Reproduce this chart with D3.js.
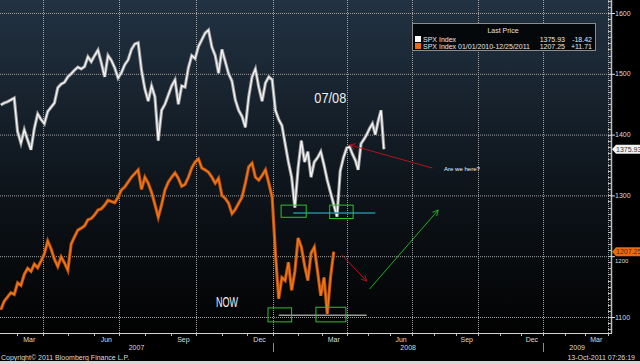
<!DOCTYPE html>
<html>
<head>
<meta charset="utf-8">
<script src="https://cdn.jsdelivr.net/npm/d3@7"></script>
<style>
  body { margin: 0; background: #000; }
  svg { display: block; font-family: "Liberation Sans", Arial, sans-serif; }
</style>
</head>
<body>
<div id="chart"></div>
<script>
// one value every 4 days, starting 10 Feb 2007
var startDate = '2007-02-10';
var stepDays = 4;

// SPX Index 2007-2008 (white)
var spx0708 = [
  1449,1452,1454,1457,1460,1405,1386,1408,1391,1375,
  1410,1434,1425,1418,1438,1445,1452,1477,1483,1486,
  1495,1500,1506,1511,1508,1512,1528,1520,1530,1539,
  1518,1495,1530,1522,1510,1493,1502,1515,1523,1540,
  1549,1551,1506,1475,1455,1480,1462,1390,1440,1450,
  1465,1480,1490,1450,1480,1478,1510,1530,1525,1545,
  1556,1567,1572,1544,1530,1501,1540,1520,1500,1488,
  1457,1440,1430,1412,1462,1495,1508,1478,1455,1485,
  1495,1490,1440,1425,1415,1385,1355,1330,1280,1345,
  1390,1355,1372,1330,1355,1362,1372,1350,1325,1305,
  1285,1265,1340,1362,1378,1380,1368,1358,1342,1385,
  1392,1400,1410,1418,1400,1422,1440,1375.93
];

// SPX Index 01/01/2010-12/25/2011 laid over the same span (orange)
var spx1011 = [
  1112,1126,1133,1140,1137,1156,1152,1170,1180,1175,
  1187,1181,1192,1204,1225,1212,1195,1183,1199,1189,
  1177,1220,1232,1243,1246,1250,1260,1262,1268,1276,
  1278,1284,1292,1290,1288,1297,1309,1314,1322,1330,
  1336,1342,1310,1330,1320,1305,1285,1264,1285,1309,
  1322,1330,1337,1328,1315,1318,1330,1345,1355,1360,
  1345,1342,1338,1330,1320,1328,1300,1295,1287,1270,
  1277,1287,1297,1320,1347,1353,1330,1325,1333,1342,
  1320,1297,1205,1130,1165,1160,1190,1144,1175,1230,
  1215,1185,1160,1205,1215,1175,1135,1165,1105,1165,
  1207.25
];

var yTicks = [1100, 1200, 1300, 1400, 1500, 1600];
var years = ['2007', '2008', '2009'];

var legendRows = [
  {name: 'SPX Index', last: '1375.93', chg: '-18.42', color: '#ffffff'},
  {name: 'SPX Index 01/01/2010-12/25/2011', last: '1207.25', chg: '+11.71', color: '#ee6a10'}
];

// hand drawn notes, in chart units
var boxes = [
  {x0: '2008-01-11', x1: '2008-02-11', y0: 1264, y1: 1284},
  {x0: '2008-03-11', x1: '2008-04-10', y0: 1262, y1: 1284},
  {x0: '2007-12-26', x1: '2008-01-24', y0: 1092, y1: 1115},
  {x0: '2008-02-23', x1: '2008-03-31', y0: 1092, y1: 1116}
];
var levels = [
  {x0: '2008-01-26', x1: '2008-05-11', y: 1271, color: '#1f8e98'},
  {x0: '2008-01-08', x1: '2008-04-29', y: 1103, color: '#9a9a9a'}
];
var arrows = [
  {x0: '2008-07-30', y0: 1345, x1: '2008-04-05', y1: 1383, color: '#b3141a'},
  {x0: '2008-03-26', y0: 1202, x1: '2008-04-29', y1: 1159, color: '#b3141a'},
  {x0: '2008-05-03', y0: 1146, x1: '2008-08-07', y1: 1276, color: '#22b022'}
];
var notes = [
  {x: '2007-10-25', y: 1116, text: 'NOW', size: 14, len: 22},
  {x: '2008-02-21', y: 1452, text: '07/08', size: 14, len: 32},
  {x: '2008-08-15', y: 1340, text: 'Are we here?', size: 6, len: 36}
];

var width = 640, height = 364;
var plotW = 611, plotH = 333;
var parse = d3.timeParse('%Y-%m-%d');
var start = parse(startDate);

// bloomberg squeezes the empty future part of the axis
var x = d3.scaleTime()
  .domain([parse('2007-04-01'), parse('2008-01-01'), parse('2008-04-01'), parse('2009-01-01')])
  .range([42.7, 273, 346.7, 543.3]);
var y = d3.scaleLinear().domain([1100, 1600]).range([317, 13]);

var svg = d3.select('#chart').append('svg')
  .attr('width', width)
  .attr('height', height);

var defs = svg.append('defs');
var grad = defs.append('linearGradient')
  .attr('id', 'bg')
  .attr('x1', 0).attr('y1', 0).attr('x2', 0).attr('y2', 1);
grad.append('stop').attr('offset', '0%').attr('stop-color', '#223242');
grad.append('stop').attr('offset', '55%').attr('stop-color', '#0e151c');
grad.append('stop').attr('offset', '100%').attr('stop-color', '#020202');

defs.append('clipPath').attr('id', 'plot-clip')
  .append('rect').attr('width', plotW).attr('height', plotH);

arrows.forEach(function(a, i) {
  defs.append('marker')
    .attr('id', 'head' + i)
    .attr('viewBox', '0 0 10 10')
    .attr('refX', 9).attr('refY', 5)
    .attr('markerWidth', 7).attr('markerHeight', 7)
    .attr('orient', 'auto')
    .append('path')
      .attr('d', 'M1,1 L9,5 L1,9')
      .attr('fill', 'none')
      .attr('stroke', a.color)
      .attr('stroke-width', 1.3);
});

svg.append('rect').attr('width', width).attr('height', height).attr('fill', '#000');
svg.append('rect').attr('width', plotW).attr('height', plotH).attr('fill', 'url(#bg)');
svg.append('rect').attr('y', 361).attr('width', width).attr('height', 3).attr('fill', '#d6d6d6');

//grid
var quarters = d3.timeMonth.range(parse('2007-01-01'), parse('2009-06-01'))
  .filter(function(d) { return d.getMonth() % 3 == 0; })
  .filter(function(d) { return x(d) > 0 && x(d) < plotW; });

var grid = svg.append('g').attr('class', 'grid')
  .attr('stroke', '#a0a0a0')
  .attr('stroke-dasharray', '1,1');
grid.selectAll('.hgrid')
  .data(yTicks)
  .enter().append('line')
    .attr('x1', 0).attr('x2', plotW)
    .attr('y1', function(d) { return y(d) + 0.5; })
    .attr('y2', function(d) { return y(d) + 0.5; });
grid.selectAll('.vgrid')
  .data(quarters)
  .enter().append('line')
    .attr('x1', function(d) { return Math.round(x(d)) + 0.5; })
    .attr('x2', function(d) { return Math.round(x(d)) + 0.5; })
    .attr('y1', 0).attr('y2', plotH);

//series, drawn as a wide dim band with a bright core to mimic the daily bars
function toPoints(arr) {
  return arr.map(function(v, i) {
    return {date: d3.timeDay.offset(start, i * stepDays), value: v};
  });
}
var line = d3.line()
  .x(function(d) { return x(d.date); })
  .y(function(d) { return y(d.value); });

var series = [
  {data: spx1011, under: '#b9500a', core: '#f27a1c'},
  {data: spx0708, under: '#9c9c9c', core: '#f6f6f6'}
];
var plot = svg.append('g').attr('clip-path', 'url(#plot-clip)');
series.forEach(function(s) {
  var pts = toPoints(s.data);
  plot.append('path')
    .datum(pts)
    .attr('fill', 'none')
    .attr('stroke', s.under)
    .attr('stroke-width', 3.2)
    .attr('stroke-linejoin', 'miter')
    .attr('stroke-miterlimit', 4)
    .attr('d', line);
  plot.append('path')
    .datum(pts)
    .attr('fill', 'none')
    .attr('stroke', s.core)
    .attr('stroke-width', 1.3)
    .attr('stroke-linejoin', 'miter')
    .attr('stroke-miterlimit', 4)
    .attr('d', line);
});

//annotations
var notesG = svg.append('g');
notesG.selectAll('.level')
  .data(levels)
  .enter().append('line')
    .attr('x1', function(d) { return x(parse(d.x0)); })
    .attr('x2', function(d) { return x(parse(d.x1)); })
    .attr('y1', function(d) { return y(d.y); })
    .attr('y2', function(d) { return y(d.y); })
    .attr('stroke', function(d) { return d.color; })
    .attr('stroke-width', 1.5);
notesG.selectAll('.box')
  .data(boxes)
  .enter().append('rect')
    .attr('x', function(d) { return x(parse(d.x0)); })
    .attr('y', function(d) { return y(d.y1); })
    .attr('width', function(d) { return x(parse(d.x1)) - x(parse(d.x0)); })
    .attr('height', function(d) { return y(d.y0) - y(d.y1); })
    .attr('fill', 'none')
    .attr('stroke', '#2fbf2f')
    .attr('stroke-width', 1);
notesG.selectAll('.arrow')
  .data(arrows)
  .enter().append('line')
    .attr('x1', function(d) { return x(parse(d.x0)); })
    .attr('y1', function(d) { return y(d.y0); })
    .attr('x2', function(d) { return x(parse(d.x1)); })
    .attr('y2', function(d) { return y(d.y1); })
    .attr('stroke', function(d) { return d.color; })
    .attr('stroke-width', 1)
    .attr('marker-end', function(d, i) { return 'url(#head' + i + ')'; });
notesG.selectAll('.note')
  .data(notes)
  .enter().append('text')
    .attr('x', function(d) { return x(parse(d.x)); })
    .attr('y', function(d) { return y(d.y); })
    .attr('font-size', function(d) { return d.size; })
    .attr('textLength', function(d) { return d.len; })
    .attr('lengthAdjust', 'spacingAndGlyphs')
    .attr('fill', '#f0f0f0')
    .text(function(d) { return d.text; });

//right axis
var axisG = svg.append('g').attr('class', 'y-axis');
axisG.append('line')
  .attr('x1', plotW + 0.5).attr('x2', plotW + 0.5)
  .attr('y1', 0).attr('y2', plotH)
  .attr('stroke', '#bdbdbd').attr('stroke-width', 1.5);
axisG.selectAll('.minor')
  .data(d3.range(1080, 1621, 10))
  .enter().append('line')
    .attr('x1', plotW - 3).attr('x2', plotW)
    .attr('y1', function(d) { return Math.round(y(d)) + 0.5; })
    .attr('y2', function(d) { return Math.round(y(d)) + 0.5; })
    .attr('stroke', '#bdbdbd');
axisG.selectAll('.major')
  .data(yTicks)
  .enter().append('line')
    .attr('x1', plotW).attr('x2', plotW + 4)
    .attr('y1', function(d) { return y(d) + 0.5; })
    .attr('y2', function(d) { return y(d) + 0.5; })
    .attr('stroke', '#e0e0e0');

//last value tags
var tags = [
  {value: spx0708[spx0708.length - 1], fill: '#f2f2f2'},
  {value: spx1011[spx1011.length - 1], fill: '#ee6a10'}
];
// a label sitting under a value tag is pushed just below it, as on the terminal
axisG.selectAll('.label')
  .data(yTicks)
  .enter().append('text')
    .attr('x', plotW + 4)
    .attr('y', function(d) {
      var hit = tags.filter(function(t) { return Math.abs(y(t.value) - y(d)) < 9; });
      return hit.length ? y(hit[0].value) + 11 : y(d) + 2.5;
    })
    .attr('font-size', function(d) {
      var hit = tags.filter(function(t) { return Math.abs(y(t.value) - y(d)) < 9; });
      return hit.length ? 6 : 7;
    })
    .attr('fill', '#dcdcdc')
    .text(function(d) { return d; });

var tagG = axisG.selectAll('.tag')
  .data(tags)
  .enter().append('g');
tagG.append('path')
  .attr('d', function(d) {
    var ty = y(d.value);
    return 'M' + (plotW + 1) + ',' + ty + 'L' + (plotW + 5) + ',' + (ty - 4.5) +
      'L' + width + ',' + (ty - 4.5) + 'L' + width + ',' + (ty + 4.5) +
      'L' + (plotW + 5) + ',' + (ty + 4.5) + 'Z';
  })
  .attr('fill', function(d) { return d.fill; });
tagG.append('text')
  .attr('x', plotW + 5)
  .attr('y', function(d) { return y(d.value) + 2.5; })
  .attr('font-size', 7)
  .attr('fill', '#333')
  .text(function(d) { return d3.format('.2f')(d.value); });

//bottom axis
var xAxisG = svg.append('g').attr('class', 'x-axis');
xAxisG.append('line')
  .attr('x1', 0).attr('x2', plotW + 1)
  .attr('y1', plotH + 0.5).attr('y2', plotH + 0.5)
  .attr('stroke', '#d0d0d0');
var months = d3.timeMonth.range(parse('2007-02-01'), parse('2009-05-01'))
  .filter(function(d) { return x(d) > 0 && x(d) < plotW; });
xAxisG.selectAll('.mtick')
  .data(months)
  .enter().append('line')
    .attr('x1', function(d) { return Math.round(x(d)) + 0.5; })
    .attr('x2', function(d) { return Math.round(x(d)) + 0.5; })
    .attr('y1', plotH + 1).attr('y2', plotH + 3)
    .attr('stroke', '#bdbdbd');
var monthLabels = months.filter(function(d) { return d.getMonth() % 3 == 2; });
xAxisG.selectAll('.mlabel')
  .data(monthLabels)
  .enter().append('text')
    .attr('x', function(d) { return x(d3.timeDay.offset(d, 15)); })
    .attr('y', 342)
    .attr('text-anchor', 'middle')
    .attr('font-size', 7)
    .attr('fill', '#dcdcdc')
    .text(function(d) { return d3.timeFormat('%b')(d); });

var yearEdges = [0, x(parse('2008-01-01')), x(parse('2009-01-01')), plotW];
xAxisG.selectAll('.ylabel')
  .data(years)
  .enter().append('text')
    .attr('x', function(d, i) { return (yearEdges[i] + yearEdges[i + 1]) / 2; })
    .attr('y', 350)
    .attr('text-anchor', 'middle')
    .attr('font-size', 7)
    .attr('fill', '#dcdcdc')
    .text(function(d) { return d; });
xAxisG.selectAll('.ysep')
  .data(yearEdges.slice(1, 3))
  .enter().append('line')
    .attr('x1', function(d) { return Math.round(d) + 0.5; })
    .attr('x2', function(d) { return Math.round(d) + 0.5; })
    .attr('y1', 343).attr('y2', 352)
    .attr('stroke', '#8a8a8a');

svg.append('text')
  .attr('x', 1).attr('y', 359.5)
  .attr('font-size', 7)
  .attr('fill', '#dcdcdc')
  .text('Copyright\u00a9 2011 Bloomberg Finance L.P.');
svg.append('text')
  .attr('x', 635).attr('y', 359.5)
  .attr('text-anchor', 'end')
  .attr('font-size', 7)
  .attr('fill', '#dcdcdc')
  .text('13-Oct-2011 07:26:19');

//legend
var legend = svg.append('g').attr('class', 'legend');
legend.append('rect')
  .attr('x', 412.5).attr('y', 23.5)
  .attr('width', 183).attr('height', 27)
  .attr('fill', '#05080b')
  .attr('stroke', '#8c8c8c');
legend.append('text')
  .attr('x', 503).attr('y', 32.5)
  .attr('text-anchor', 'middle')
  .attr('font-size', 7)
  .attr('fill', '#e0e0e0')
  .text('Last Price');
var rows = legend.selectAll('.row')
  .data(legendRows)
  .enter().append('g')
    .attr('transform', function(d, i) { return 'translate(0,' + (41.5 + i * 7) + ')'; });
rows.append('rect')
  .attr('x', 415).attr('y', -5.5)
  .attr('width', 6).attr('height', 6)
  .attr('fill', function(d) { return d.color; });
rows.append('text')
  .attr('x', 423)
  .attr('font-size', 7)
  .attr('fill', '#e8e8e8')
  .text(function(d) { return d.name; });
rows.append('text')
  .attr('x', 565)
  .attr('text-anchor', 'end')
  .attr('font-size', 7)
  .attr('fill', '#e8e8e8')
  .text(function(d) { return d.last; });
rows.append('text')
  .attr('x', 592)
  .attr('text-anchor', 'end')
  .attr('font-size', 7)
  .attr('fill', '#e8e8e8')
  .text(function(d) { return d.chg; });
</script>
</body>
</html>
